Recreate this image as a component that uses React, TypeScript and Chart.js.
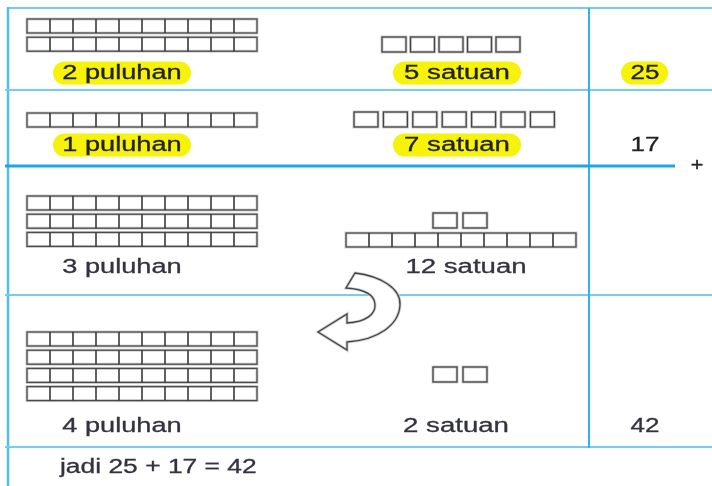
import React, { useEffect, useRef } from "react";
import { Chart, registerables } from "chart.js";

Chart.register(...registerables);

// ---- data ----
const tensCounts = [2, 1, 3, 4];
const unitCounts = [5, 7, 12, 2];
const tensLabels = ["2 puluhan", "1 puluhan", "3 puluhan", "4 puluhan"];
const unitLabels = ["5 satuan", "7 satuan", "12 satuan", "2 satuan"];
const totalLabels = ["25", "17", "", "42"];
const highlightRows = [true, true, false, false];
const operatorLabel = "+";
const summaryLabel = "jadi 25 + 17 = 42";

// ---- layout (positions in scale units) ----
const W = 712;
const H = 486;
const rodStartY = [19, 113, 196, 332];
const rodPitch = 18.2;
const rodH = 14;
const rodX0 = 27;
const rodX1 = 257;
const labelY = [73, 145, 267, 426];
const tensLabelX = 122;
const unitLabelX = [457, 457, 466, 456];
const totalX = 645;
const unitBoxRows = [
  { x: 382, y: 37, pitch: 28.5 },
  { x: 354, y: 112, pitch: 29.4 },
  { x: 433, y: 213, pitch: 30 },
  { x: 433, y: 367, pitch: 30 },
];
const unitRods = [null, null, { x0: 346, x1: 576, y: 233 }, null];
const boxW = 24;
const boxH = 15;

const diagramPlugin = {
  id: "diagram",
  afterDraw(chart: any) {
    const ctx: CanvasRenderingContext2D = chart.ctx;
    const xs = chart.scales.x;
    const ys = chart.scales.y;
    const px = (v: number) => xs.getPixelForValue(v);
    const py = (v: number) => ys.getPixelForValue(v);

    ctx.save();
    ctx.fillStyle = "#ffffff";
    ctx.fillRect(px(0), py(0), px(W) - px(0), py(H) - py(0));

    const line = (x0: number, y0: number, x1: number, y1: number, color: string, w: number) => {
      ctx.beginPath();
      ctx.strokeStyle = color;
      ctx.lineWidth = w;
      ctx.moveTo(px(x0), py(y0));
      ctx.lineTo(px(x1), py(y1));
      ctx.stroke();
    };

    const light = "#74cdf4";
    line(7, 8, W, 8, light, 2);
    line(8, 7, 8, H, "#4fbff0", 2.5);
    line(5, 90, W, 90, light, 2);
    line(5, 295, W, 295, light, 2);
    line(5, 447, W, 447, light, 2);
    line(589, 8, 589, 448, "#2fb4ec", 2);
    line(5, 166, 675, 166, "#1fa6e2", 3);

    const rod = (x0: number, x1: number, y: number, cells: number) => {
      const cw = (x1 - x0) / cells;
      ctx.fillStyle = "#ffffff";
      ctx.fillRect(px(x0), py(y), px(x1) - px(x0), py(y + rodH) - py(y));
      ctx.strokeStyle = "#d2d2d2";
      ctx.lineWidth = 3;
      ctx.strokeRect(px(x0), py(y), px(x1) - px(x0), py(y + rodH) - py(y));
      ctx.strokeStyle = "#4a4a4a";
      ctx.lineWidth = 1.3;
      ctx.strokeRect(px(x0), py(y), px(x1) - px(x0), py(y + rodH) - py(y));
      ctx.beginPath();
      for (let i = 1; i < cells; i++) {
        ctx.moveTo(px(x0 + i * cw), py(y));
        ctx.lineTo(px(x0 + i * cw), py(y + rodH));
      }
      ctx.lineWidth = 1.6;
      ctx.strokeStyle = "#3a3a3a";
      ctx.stroke();
    };

    const box = (x: number, y: number) => {
      ctx.strokeStyle = "#cfcfcf";
      ctx.lineWidth = 3;
      ctx.strokeRect(px(x), py(y), px(x + boxW) - px(x), py(y + boxH) - py(y));
      ctx.strokeStyle = "#444";
      ctx.lineWidth = 1.3;
      ctx.strokeRect(px(x), py(y), px(x + boxW) - px(x), py(y + boxH) - py(y));
    };

    const text = (s: string, cx: number, cy: number, size: number, color: string, sx: number, align: CanvasTextAlign = "center") => {
      ctx.save();
      ctx.translate(px(cx), py(cy));
      ctx.scale(sx, 1);
      ctx.font = `${size}px "Liberation Sans", Arial, sans-serif`;
      ctx.textAlign = align;
      ctx.textBaseline = "middle";
      ctx.fillStyle = color;
      ctx.strokeStyle = color;
      ctx.lineWidth = 0.3;
      ctx.fillText(s, 0, 0);
      ctx.strokeText(s, 0, 0);
      ctx.restore();
    };

    const pill = (x0: number, x1: number, cy: number) => {
      const h = 23;
      const r = h / 2;
      ctx.beginPath();
      ctx.fillStyle = "#f6f20a";
      ctx.roundRect(px(x0), py(cy - r), px(x1) - px(x0), h, r);
      ctx.fill();
    };

    for (let row = 0; row < 4; row++) {
      for (let i = 0; i < tensCounts[row]; i++) {
        rod(rodX0, rodX1, rodStartY[row] + i * rodPitch, 10);
      }
      let loose = unitCounts[row];
      const ur = unitRods[row];
      if (ur && loose >= 10) {
        rod(ur.x0, ur.x1, ur.y, 10);
        loose -= 10;
      }
      const br = unitBoxRows[row];
      for (let i = 0; i < loose; i++) box(br.x + i * br.pitch, br.y);

      const hl = highlightRows[row];
      if (hl) {
        pill(53, 191, labelY[row]);
        pill(393, 521, labelY[row]);
      }
      const col = hl ? "#222222" : "#33333f";
      text(tensLabels[row], tensLabelX, labelY[row], 20, col, 1.36);
      text(unitLabels[row], unitLabelX[row], labelY[row], 20, col, 1.38);
      if (totalLabels[row]) {
        if (row === 0) pill(621, 668, labelY[row]);
        text(totalLabels[row], totalX, labelY[row], 20, col, 1.3);
      }
    }

    text(operatorLabel, 697, 166, 18, "#222", 1.2);
    text(summaryLabel, 60, 467, 20, "#33333f", 1.32, "left");

    // curved arrow
    ctx.beginPath();
    ctx.moveTo(px(355), py(273));
    ctx.bezierCurveTo(px(380), py(276), px(401), py(288), px(400), py(305));
    ctx.bezierCurveTo(px(399), py(325), px(378), py(340), px(347), py(342));
    ctx.lineTo(px(347), py(350));
    ctx.lineTo(px(318), py(332));
    ctx.lineTo(px(347), py(314));
    ctx.lineTo(px(347), py(323));
    ctx.bezierCurveTo(px(366), py(322), px(376), py(314), px(375), py(304));
    ctx.bezierCurveTo(px(374), py(294), px(362), py(289), px(346), py(288));
    ctx.closePath();
    ctx.fillStyle = "#ffffff";
    ctx.fill();
    ctx.strokeStyle = "#d0d0d0";
    ctx.lineWidth = 3;
    ctx.stroke();
    ctx.strokeStyle = "#444";
    ctx.lineWidth = 1.3;
    ctx.stroke();

    ctx.restore();
  },
};

export default function App() {
  const ref = useRef<HTMLCanvasElement>(null);
  useEffect(() => {
    if (!ref.current) return;
    const chart = new Chart(ref.current, {
      type: "scatter",
      data: { datasets: [{ data: [], pointRadius: 0 }] },
      options: {
        animation: false,
        responsive: false,
        devicePixelRatio: 1,
        layout: { padding: 0 },
        plugins: { legend: { display: false }, tooltip: { enabled: false } },
        scales: {
          x: { type: "linear", min: 0, max: W, display: false },
          y: { type: "linear", min: 0, max: H, reverse: true, display: false },
        },
      },
      plugins: [diagramPlugin],
    });
    return () => chart.destroy();
  }, []);
  return (
    <div style={{ position: "fixed", left: 0, top: 0, width: W, height: H, background: "#fff" }}>
      <canvas ref={ref} width={W} height={H} style={{ display: "block", width: W, height: H }} />
    </div>
  );
}
